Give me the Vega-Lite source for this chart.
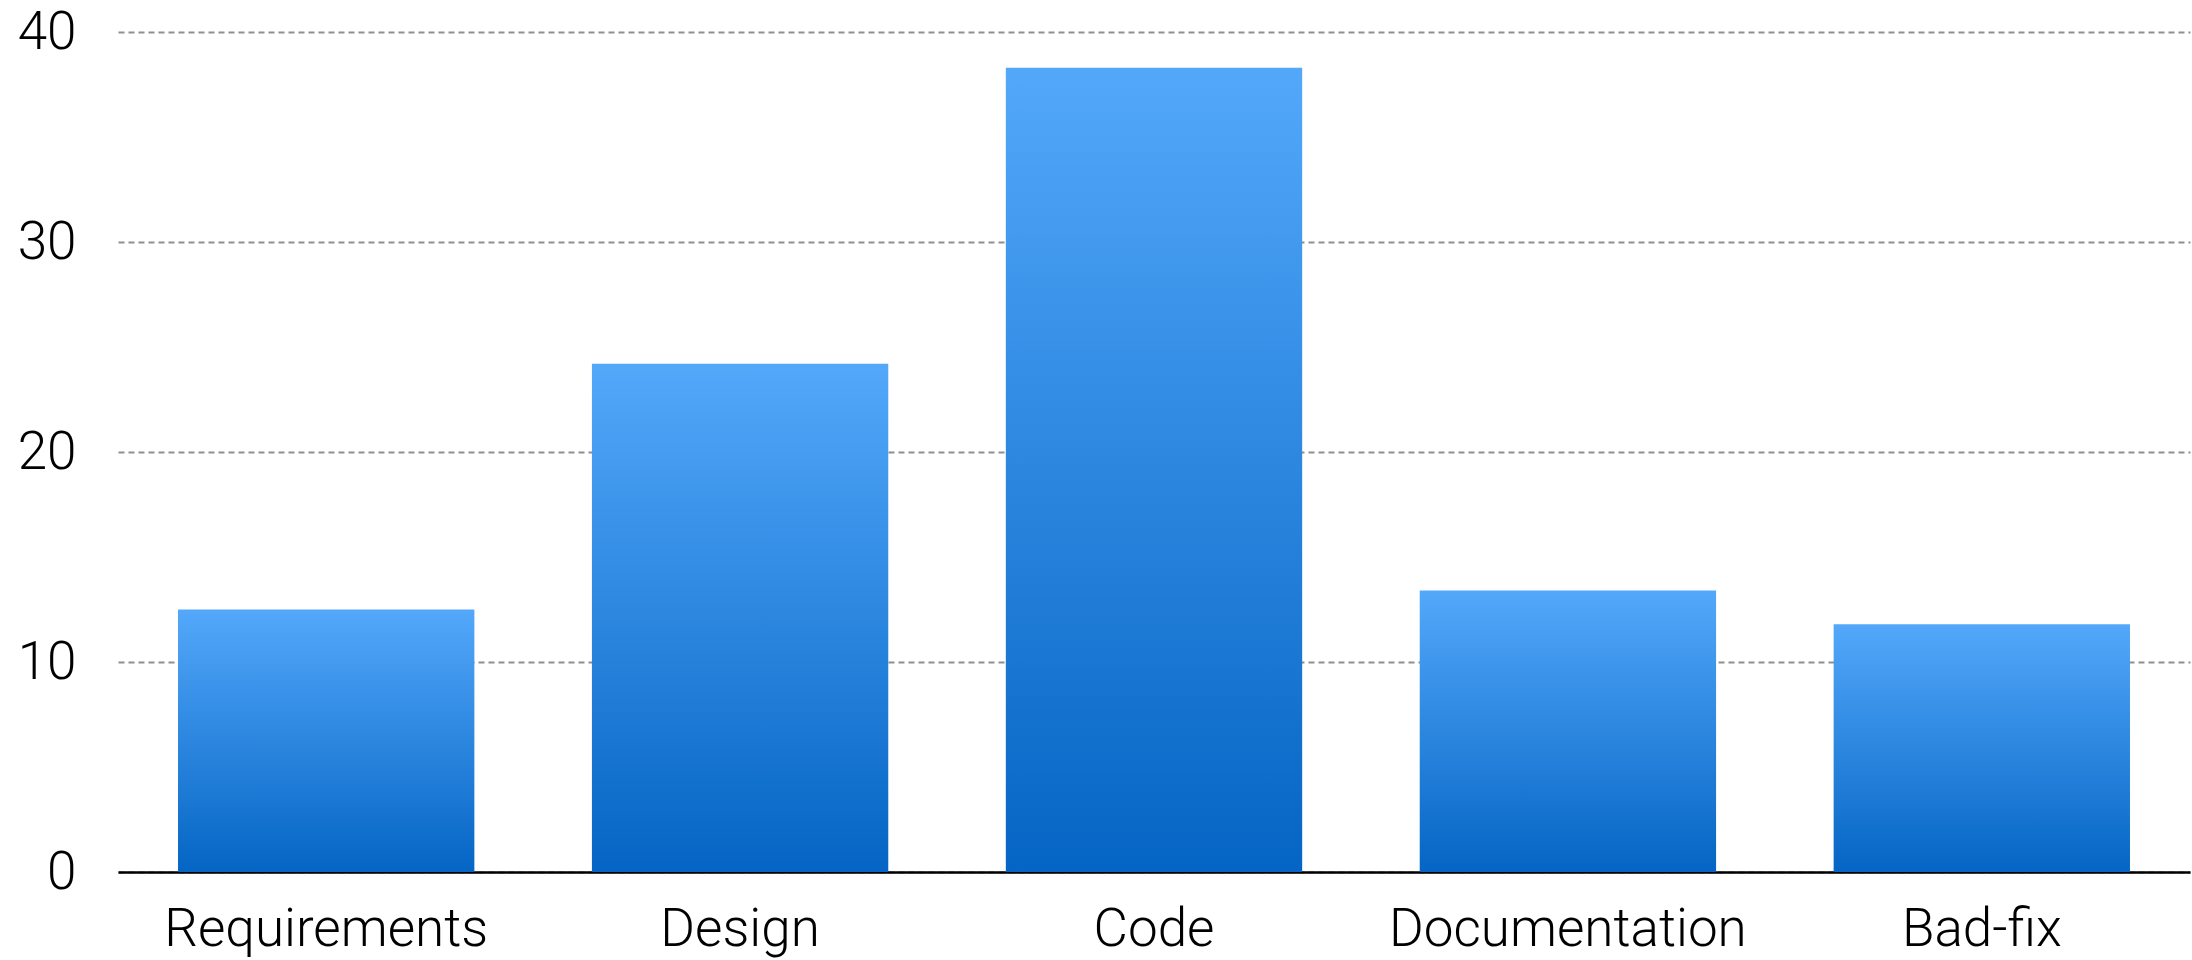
{
  "$schema": "https://vega.github.io/schema/vega-lite/v6.json",
  "autosize": {"type": "none"},
  "padding": {"left": 118, "top": 32, "right": 2, "bottom": 88},
  "width": 2072,
  "height": 840,
  "background": "white",
  "config": {
    "view": {"stroke": null},
    "axis": {"labelFont": "Roboto", "labelFontWeight": 300, "labelFontSize": 53, "labelColor": "#000000", "labelLimit": 0, "labelOverlap": false, "title": null}
  },
  "data": {
    "values": [
      {"category": "Requirements", "value": 12.5},
      {"category": "Design", "value": 24.2},
      {"category": "Code", "value": 38.3},
      {"category": "Documentation", "value": 13.4},
      {"category": "Bad-fix", "value": 11.8}
    ]
  },
  "mark": {
    "type": "bar",
    "fill": {
      "gradient": "linear",
      "x1": 0, "y1": 0, "x2": 0, "y2": 1,
      "stops": [
        {"offset": 0, "color": "#53A8FA"},
        {"offset": 1, "color": "#0565C4"}
      ]
    }
  },
  "encoding": {
    "x": {
      "field": "category",
      "type": "nominal",
      "sort": null,
      "scale": {"paddingInner": 0.284, "paddingOuter": 0.145},
      "axis": {
        "labelAngle": 0,
        "ticks": false,
        "labelPadding": 73,
        "labelBaseline": "alphabetic",
        "domainColor": "#000000",
        "domainWidth": 2.5,
        "grid": false
      }
    },
    "y": {
      "field": "value",
      "type": "quantitative",
      "scale": {"domain": [0, 40], "nice": false},
      "axis": {
        "values": [0, 10, 20, 30, 40],
        "domain": false,
        "ticks": false,
        "labelPadding": 42,
        "labelBaseline": "middle",
        "grid": true,
        "gridColor": "#8f8f8f",
        "gridWidth": 1.8,
        "gridDash": [6, 4]
      }
    }
  }
}
